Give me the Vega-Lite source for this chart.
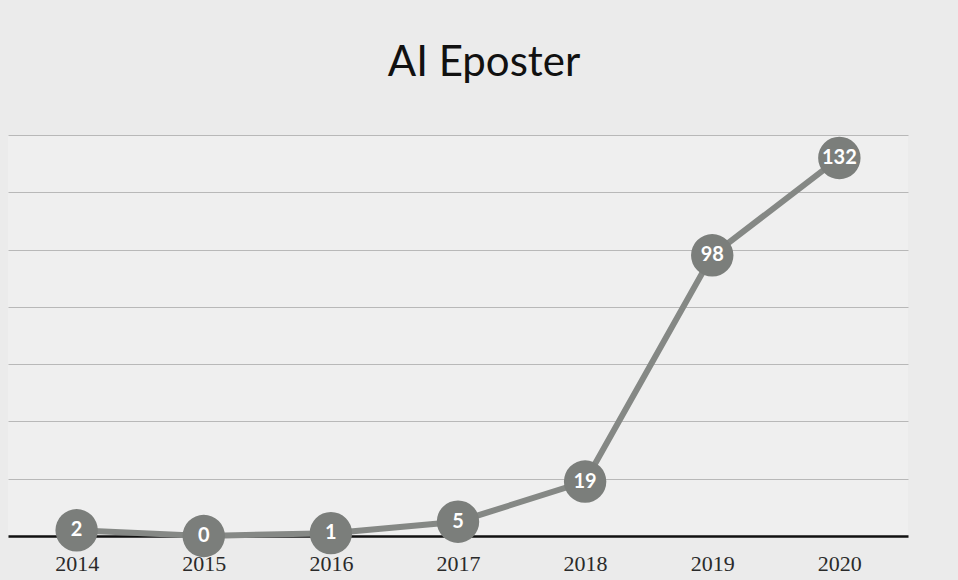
{
  "$schema": "https://vega.github.io/schema/vega-lite/v6.json",
  "width": 900,
  "height": 401,
  "autosize": {"type": "none"},
  "padding": {"left": 8, "top": 135, "right": 50, "bottom": 44},
  "background": "#ebebeb",
  "title": {
    "text": "AI Eposter",
    "font": "Lato",
    "fontSize": 42,
    "fontWeight": "normal",
    "color": "#111111",
    "anchor": "middle",
    "dx": 26,
    "offset": 50
  },
  "config": {
    "view": {"stroke": null, "fill": "#efefef"}
  },
  "data": {
    "values": [
      {"year": "2014", "count": 2},
      {"year": "2015", "count": 0},
      {"year": "2016", "count": 1},
      {"year": "2017", "count": 5},
      {"year": "2018", "count": 19},
      {"year": "2019", "count": 98},
      {"year": "2020", "count": 132}
    ]
  },
  "encoding": {
    "x": {
      "field": "year",
      "type": "ordinal",
      "scale": {"type": "point", "padding": 0.54},
      "axis": {
        "title": null,
        "labelAngle": 0,
        "labelFont": "Liberation Serif",
        "labelFontSize": 22,
        "labelColor": "#2a2a2a",
        "labelPadding": 17,
        "ticks": false,
        "domain": true,
        "domainColor": "#111111",
        "domainWidth": 2.5,
        "grid": false
      }
    },
    "y": {
      "field": "count",
      "type": "quantitative",
      "scale": {"domain": [0, 140], "nice": false},
      "axis": {
        "title": null,
        "labels": false,
        "ticks": false,
        "domain": false,
        "values": [20, 40, 60, 80, 100, 120, 140],
        "grid": true,
        "gridColor": "#b8b8b8",
        "gridWidth": 1
      }
    }
  },
  "layer": [
    {
      "mark": {"type": "line", "color": "#858885", "strokeWidth": 6}
    },
    {
      "mark": {"type": "point", "shape": "circle", "filled": true, "size": 1800, "color": "#7b7e7b", "opacity": 1}
    },
    {
      "mark": {"type": "text", "color": "white", "font": "Lato", "fontWeight": "bold", "fontSize": 20, "baseline": "middle", "align": "center"},
      "encoding": {"text": {"field": "count", "type": "quantitative"}}
    }
  ]
}
